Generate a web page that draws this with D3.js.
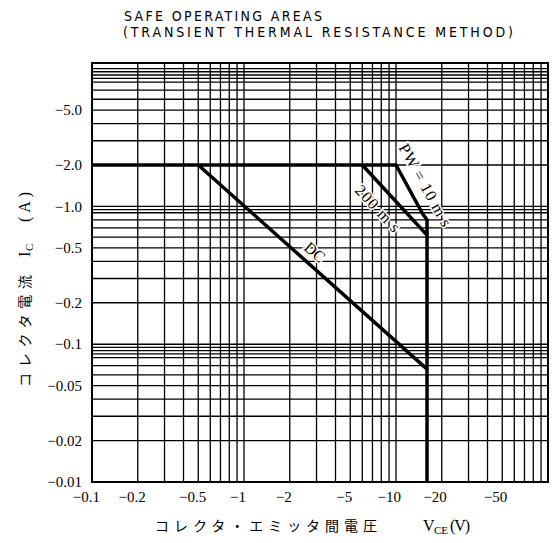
<!DOCTYPE html>
<html>
<head>
<meta charset="utf-8">
<script src="https://cdn.jsdelivr.net/npm/d3@7/dist/d3.min.js"></script>
<style>
  html, body { margin: 0; padding: 0; background: #fff; }
  svg { display: block; }
  .serif { font-family: "Liberation Serif", "DejaVu Serif", "Times New Roman", serif; }
  .jp { font-family: "Noto Sans CJK JP", sans-serif; }
  .title { font-family: "Liberation Sans Narrow", "DejaVu Sans Condensed", "Liberation Sans", sans-serif; }
</style>
</head>
<body>
<svg id="chart" width="552" height="543"></svg>
<script>
// ---------- data ----------
const xTickValues = [0.1, 0.2, 0.5, 1, 2, 5, 10, 20, 50];
const xTickLabels = ["−0.1", "−0.2", "−0.5", "−1", "−2", "−5", "−10", "−20", "−50"];
const yTickValues = [5, 2, 1, 0.5, 0.2, 0.1, 0.05, 0.02, 0.01];
const yTickLabels = ["−5.0", "−2.0", "−1.0", "−0.5", "−0.2", "−0.1", "−0.05", "−0.02", "−0.01"];

// grid (graph paper) lines
const xGridValues = [0.2,0.3,0.4,0.5,0.6,0.7,0.8,0.9,1,2,3,4,5,6,7,8,9,10,20,30,40,50,60,70,80,90];
const yGridValues = [0.02,0.03,0.04,0.05,0.06,0.07,0.08,0.085,0.09,0.095,0.1,
                     0.2,0.3,0.4,0.5,0.6,0.7,0.8,0.9,0.95,1,
                     2,3,4,5,6,7,8,8.5,9,9.5,10];

// safe operating area boundaries (|VCE| in V, |IC| in A)
const pw10V = [0.1, 10, 15, 16, 16];
const pw10I = [2.0, 2.0, 0.88, 0.8, 0.01];
const ms200V = [6, 16];
const ms200I = [2.0, 0.62];
const dcV = [0.5, 16];
const dcI = [2.0, 0.066];

const curveLabels = ["PW = 10 m s", "200 m s", "DC"];
const curveLabelV = [15.6, 7.6, 2.93];
const curveLabelI = [1.43, 0.97, 0.467];

// ---------- drawing ----------
const svg = d3.select("#chart");
const x = d3.scaleLog().domain([0.1, 100]).range([92, 548]);
const y = d3.scaleLog().domain([0.01, 11]).range([482, 63]);
const [x0, x1] = x.range();
const [y0, y1] = y.range();

svg.append("rect").attr("width", 552).attr("height", 543).attr("fill", "#fff");

// title
svg.append("text").attr("class", "title").attr("x", 124).attr("y", 21)
  .attr("font-size", 14).attr("textLength", 198).attr("fill", "#000")
  .text("SAFE OPERATING AREAS");
svg.append("text").attr("class", "title").attr("x", 123).attr("y", 37)
  .attr("font-size", 14).attr("textLength", 390).attr("fill", "#000")
  .text("(TRANSIENT THERMAL RESISTANCE METHOD)");

const grid = svg.append("g").attr("stroke", "#000").attr("stroke-width", 1.3);
grid.selectAll("line.v").data(xGridValues).join("line").attr("class", "v")
  .attr("x1", d => x(d)).attr("x2", d => x(d)).attr("y1", y0).attr("y2", y1);
grid.selectAll("line.h").data(yGridValues).join("line").attr("class", "h")
  .attr("y1", d => y(d)).attr("y2", d => y(d)).attr("x1", x0).attr("x2", x1);

// frame
svg.append("rect").attr("x", x0).attr("y", y1).attr("width", x1 - x0).attr("height", y0 - y1)
  .attr("fill", "none").attr("stroke", "#000").attr("stroke-width", 2);

// boundaries
const line = d3.line().x(d => x(d[0])).y(d => y(d[1]));
const curves = [
  d3.zip(pw10V, pw10I),
  d3.zip(ms200V, ms200I),
  d3.zip(dcV, dcI)
];
svg.append("g").selectAll("path").data(curves).join("path")
  .attr("d", line).attr("fill", "none").attr("stroke", "#000")
  .attr("stroke-width", 3.5).attr("stroke-linejoin", "miter");

// curve labels
const angles = [61, 47, 41];
const lens = [92, 58, null];
svg.append("g").selectAll("text").data(curveLabels).join("text")
  .attr("class", "serif")
  .attr("transform", (d, i) => `translate(${x(curveLabelV[i])},${y(curveLabelI[i])}) rotate(${angles[i]})`)
  .attr("text-anchor", "middle").attr("dy", "0.35em")
  .attr("font-size", 16)
  .attr("stroke", "#fff").attr("stroke-width", 3).attr("paint-order", "stroke")
  .attr("fill", "#000")
  .each(function(d, i) { if (lens[i]) d3.select(this).attr("textLength", lens[i]); })
  .text(d => d);

// x tick labels
svg.append("g").selectAll("text").data(xTickValues).join("text")
  .attr("class", "serif")
  .attr("x", (d, i) => x(d) + (xTickLabels[i].includes(".") ? 8 : (d >= 10 ? 5 : 2)))
  .attr("y", 502).attr("text-anchor", "end")
  .attr("font-size", 15)
  .text((d, i) => xTickLabels[i]);

// y tick labels
svg.append("g").selectAll("text").data(yTickValues).join("text")
  .attr("class", "serif")
  .attr("x", 82).attr("y", d => y(d)).attr("dy", "0.35em").attr("text-anchor", "end")
  .attr("font-size", 15)
  .text((d, i) => yTickLabels[i]);

// x axis title
const xt = svg.append("g");
xt.append("text").attr("class", "jp").attr("x", 155).attr("y", 531)
  .attr("font-size", 14).attr("textLength", 222).text("コレクタ・エミッタ間電圧");
xt.append("text").attr("class", "serif").attr("x", 423).attr("y", 531)
  .attr("font-size", 16).text("V");
xt.append("text").attr("class", "serif").attr("x", 434).attr("y", 534)
  .attr("font-size", 11).text("CE");
xt.append("text").attr("class", "serif").attr("x", 450).attr("y", 531)
  .attr("font-size", 16).attr("textLength", 20).text("(V)");

// y axis title
const yt = svg.append("g").attr("transform", "translate(30,0) rotate(-90)");
yt.append("text").attr("class", "jp").attr("x", -387).attr("y", 0)
  .attr("font-size", 14).attr("textLength", 112).text("コレクタ電流");
yt.append("text").attr("class", "serif").attr("x", -257).attr("y", 0)
  .attr("font-size", 16).text("I");
yt.append("text").attr("class", "serif").attr("x", -251).attr("y", 3)
  .attr("font-size", 11).text("C");
yt.append("text").attr("class", "serif").attr("x", -222).attr("y", 0)
  .attr("font-size", 16).attr("textLength", 30).text("(A)");
</script>
</body>
</html>
